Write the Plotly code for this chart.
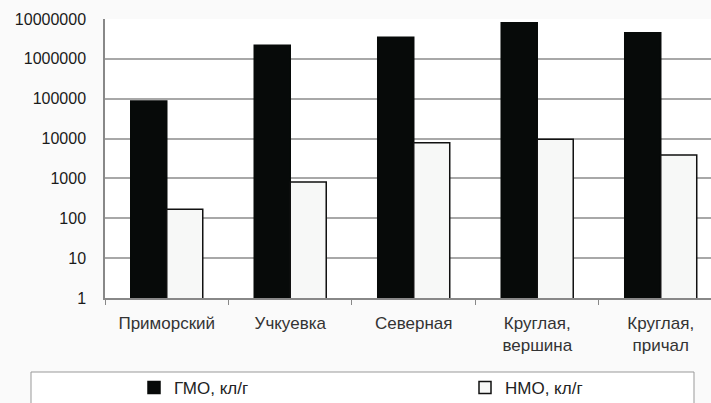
import plotly.graph_objects as go

categories = ["Приморский", "Учкуевка", "Северная", "Круглая,<br>вершина", "Круглая,<br>причал"]
gmo = [87000, 2200000, 3500000, 8100000, 4500000]
nmo = [168, 810, 7900, 9600, 3870]
series_names = ["ГМО, кл/г", "НМО, кл/г"]
y_ticks = [1, 10, 100, 1000, 10000, 100000, 1000000, 10000000]

W, H = 711, 403
L, T, B = 105, 19, 105
PW = W - L
PH = H - T - B


def px_x(x):
    return (x - L) / PW


def px_y(y):
    return (H - B - y) / PH


fig = go.Figure()
fig.add_trace(go.Bar(x=categories, y=gmo, name=series_names[0], legend="legend",
                     marker=dict(color="#070a09", line=dict(color="#070a09", width=1.5))))
fig.add_trace(go.Bar(x=categories, y=nmo, name=series_names[1], legend="legend2",
                     marker=dict(color="#f7f8f7", line=dict(color="#111", width=1.5))))

leg_common = dict(orientation="h", xanchor="left", yanchor="middle",
                  bgcolor="rgba(0,0,0,0)", font=dict(size=17, color="#222"),
                  itemwidth=30)
fig.update_layout(
    width=W, height=H,
    margin=dict(l=L, r=0, t=T, b=B, autoexpand=False),
    paper_bgcolor="#fafafa", plot_bgcolor="#ffffff",
    barmode="group", bargap=0.417, bargroupgap=0,
    font=dict(family="Liberation Sans, Arial, sans-serif", color="#333", size=14),
    showlegend=True,
    legend=dict(x=px_x(134), y=px_y(388), **leg_common),
    legend2=dict(x=px_x(465), y=px_y(388), **leg_common),
)
fig.update_xaxes(type="category", range=[-0.5, 4.407], showgrid=False,
                 showline=True, linecolor="#888", linewidth=1.5,
                 ticks="outside", tickson="boundaries", ticklen=5, tickcolor="#888",
                 ticklabelstandoff=9,
                 tickfont=dict(size=17, color="#333"))
fig.update_yaxes(type="log", range=[0, 7], tickvals=y_ticks,
                 ticktext=[str(v) for v in y_ticks],
                 showgrid=True, gridcolor="#a8a8a8", gridwidth=1.5,
                 showline=True, linecolor="#888", linewidth=1.5,
                 ticks="", tickfont=dict(size=16, color="#1a1a1a"), ticklabelstandoff=14)

fig.add_shape(type="rect", xref="paper", yref="paper",
              x0=px_x(31), x1=px_x(694), y0=px_y(372), y1=px_y(410),
              line=dict(color="#999", width=1), fillcolor="#ffffff", layer="below")

fig.write_html("out.html")
